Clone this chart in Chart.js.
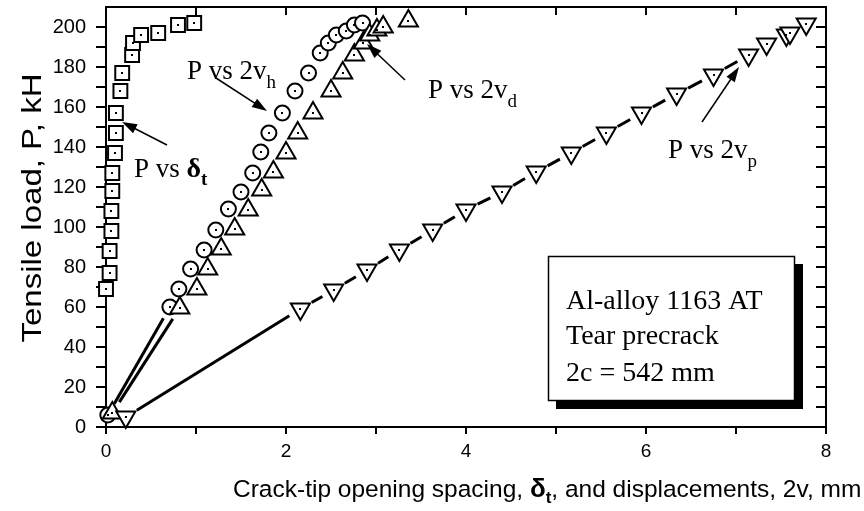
<!DOCTYPE html>
<html><head><meta charset="utf-8">
<script src="https://cdn.jsdelivr.net/npm/chart.js@4/dist/chart.umd.min.js"></script>
<style>html,body{margin:0;padding:0;background:#fff;}</style>
</head><body>
<canvas id="c" width="864" height="511"></canvas>
<script>
// ---- data ----
const xTickLabels = [0, 2, 4, 6, 8];
const yTickLabels = [0, 20, 40, 60, 80, 100, 120, 140, 160, 180, 200];

// P vs delta_t (squares)
const deltaX = [0.00, 0.04, 0.04, 0.06, 0.06, 0.07, 0.07, 0.10, 0.11, 0.11, 0.16, 0.18, 0.29, 0.30, 0.39, 0.58, 0.80, 0.98];
const deltaP = [69, 77, 88, 98, 108, 118, 127, 137, 147, 157, 168, 177, 186, 192, 196, 197, 201, 202];

// P vs 2v_h (circles)
const vhX = [0.02, 0.71, 0.81, 0.94, 1.09, 1.22, 1.36, 1.50, 1.63, 1.72, 1.81, 1.96, 2.10, 2.25, 2.38, 2.47, 2.56, 2.67, 2.76, 2.85];
const vhP = [6, 60, 69, 79, 88.5, 98.5, 109, 117.5, 127, 137.5, 147, 157, 168, 177, 187, 192, 196, 198, 201, 202];

// P vs 2v_d (triangles)
const vdX = [0.07, 0.82, 1.01, 1.13, 1.28, 1.43, 1.58, 1.73, 1.86, 2.00, 2.13, 2.30, 2.50, 2.63, 2.76, 2.86, 2.93, 3.01, 3.08, 3.36];
const vdP = [7, 59.5, 69, 79, 89, 99, 108.5, 118.5, 127.5, 137, 147, 157, 168, 177, 186, 192, 196, 198.5, 200, 203];

// P vs 2v_p (inverted triangles)
const vpX = [0.22, 2.16, 2.53, 2.90, 3.26, 3.63, 4.00, 4.40, 4.78, 5.17, 5.56, 5.95, 6.34, 6.75, 7.14, 7.34, 7.56, 7.60, 7.78];
const vpP = [5, 59, 68.5, 78.5, 88.5, 98.5, 108.5, 117.5, 127.5, 137, 147, 157, 166.5, 176, 186, 191.5, 196, 197, 201.5];

const SANS = "'Liberation Sans', Arial, sans-serif";
const SERIF = "'Liberation Serif', 'Times New Roman', serif";

function pts(xs, ys) { return xs.map((x, i) => ({ x: x, y: ys[i] })); }

function richText(ctx, x, y, parts) {
  let cx = x;
  for (const p of parts) {
    ctx.font = p.font;
    ctx.fillText(p.t, cx, y + (p.dy || 0));
    cx += ctx.measureText(p.t).width;
  }
  return cx - x;
}
function arrow(ctx, x1, y1, x2, y2) {
  const a = Math.atan2(y2 - y1, x2 - x1), L = 15, W = 5;
  ctx.beginPath(); ctx.moveTo(x1, y1);
  ctx.lineTo(x2 - Math.cos(a) * L * 0.7, y2 - Math.sin(a) * L * 0.7);
  ctx.lineWidth = 1.5; ctx.stroke();
  ctx.beginPath(); ctx.moveTo(x2, y2);
  ctx.lineTo(x2 - L * Math.cos(a) + W * Math.sin(a), y2 - L * Math.sin(a) - W * Math.cos(a));
  ctx.lineTo(x2 - L * Math.cos(a) - W * Math.sin(a), y2 - L * Math.sin(a) + W * Math.cos(a));
  ctx.closePath(); ctx.fill();
}

// lines between markers, with gaps around symbols
const gapLines = {
  id: 'gapLines',
  beforeDatasetsDraw(chart) {
    const ctx = chart.ctx;
    ctx.save();
    ctx.strokeStyle = '#000'; ctx.lineWidth = 3; ctx.lineCap = 'butt';
    chart.data.datasets.forEach((ds, di) => {
      if (!ds.gap) return;
      const meta = chart.getDatasetMeta(di);
      for (let i = 1; i < meta.data.length; i++) {
        const p0 = meta.data[i - 1], p1 = meta.data[i];
        const dx = p1.x - p0.x, dy = p1.y - p0.y, d = Math.hypot(dx, dy);
        if (d <= 2 * ds.gap + 8) continue;
        const ux = dx / d, uy = dy / d;
        ctx.beginPath();
        ctx.moveTo(p0.x + ux * ds.gap, p0.y + uy * ds.gap);
        ctx.lineTo(p1.x - ux * ds.gap, p1.y - uy * ds.gap);
        ctx.stroke();
      }
    });
    ctx.restore();
  },
  afterDatasetsDraw(chart) {
    const ctx = chart.ctx;
    ctx.save(); ctx.fillStyle = '#000';
    chart.data.datasets.forEach((ds, di) => {
      const meta = chart.getDatasetMeta(di);
      meta.data.forEach(p => ctx.fillRect(Math.round(p.x) - 1, Math.round(p.y) - 1, 2, 2));
    });
    ctx.restore();
  }
};

const decor = {
  id: 'decor',
  afterDraw(chart) {
    const ctx = chart.ctx, a = chart.chartArea;
    const xs = chart.scales.x, ys = chart.scales.y;
    ctx.save();
    ctx.strokeStyle = '#000'; ctx.fillStyle = '#000';
    // frame top/right
    ctx.lineWidth = 2;
    ctx.beginPath();
    ctx.moveTo(a.left - 1, a.top); ctx.lineTo(a.right, a.top); ctx.lineTo(a.right, a.bottom + 1);
    ctx.stroke();
    // inward ticks on top & right
    for (let v = 0; v <= 8; v++) {
      const px = Math.round(xs.getPixelForValue(v));
      ctx.beginPath(); ctx.moveTo(px, a.top); ctx.lineTo(px, a.top + 8); ctx.stroke();
    }
    for (let v = 0; v <= 200; v += 10) {
      const py = Math.round(ys.getPixelForValue(v));
      ctx.beginPath(); ctx.moveTo(a.right, py); ctx.lineTo(a.right - 10, py); ctx.stroke();
    }
    // axis titles
    ctx.textBaseline = 'alphabetic'; ctx.textAlign = 'left';
    const f = '24.5px ' + SANS, fb = 'bold 26px ' + SANS, fs = 'bold 17px ' + SANS;
    richText(ctx, 233, 497, [
      { t: 'Crack-tip opening spacing, ', font: f },
      { t: '\u03B4', font: fb },
      { t: 't', font: fs, dy: 6 },
      { t: ', and displacements, 2v, mm', font: f }
    ]);
    ctx.save();
    ctx.translate(41, 208); ctx.rotate(-Math.PI / 2); ctx.scale(1, 0.85);
    ctx.font = '33px ' + SANS; ctx.textAlign = 'center';
    ctx.fillText('Tensile load, P, kH', 0, 0);
    ctx.restore();

    // annotations
    const fa = '27px ' + SERIF, fab = 'bold 28px ' + SERIF, fsub = '19px ' + SERIF, fsubb = 'bold 19px ' + SERIF;
    richText(ctx, 134, 177, [{ t: 'P vs ', font: fa }, { t: '\u03B4', font: fab }, { t: 't', font: fsubb, dy: 8 }]);
    richText(ctx, 187, 79, [{ t: 'P vs 2v', font: fa }, { t: 'h', font: fsub, dy: 9 }]);
    richText(ctx, 428, 98, [{ t: 'P vs 2v', font: fa }, { t: 'd', font: fsub, dy: 9 }]);
    richText(ctx, 668, 158, [{ t: 'P vs 2v', font: fa }, { t: 'p', font: fsub, dy: 9 }]);
    arrow(ctx, 167, 145, 122, 122);
    arrow(ctx, 216, 78, 267, 111);
    arrow(ctx, 405, 80, 367, 44);
    arrow(ctx, 702, 122, 739, 67);

    // info box with shadow
    const bx = 548, by = 256, bw = 247, bh = 145;
    ctx.fillRect(bx + 8, by + bh, bw, 8);
    ctx.fillRect(bx + bw, by + 8, 8, bh);
    ctx.fillStyle = '#fff'; ctx.fillRect(bx, by, bw, bh);
    ctx.fillStyle = '#000'; ctx.lineWidth = 1.5;
    ctx.strokeRect(bx + 0.5, by + 0.5, bw - 1, bh - 1);
    ctx.font = '28px ' + SERIF;
    ctx.fillText('Al-alloy 1163 AT', 566, 309);
    ctx.fillText('Tear precrack', 566, 344);
    ctx.fillText('2c = 542 mm', 566, 381);
    ctx.restore();
  }
};

const base = { showLine: false, pointBorderColor: '#000', pointBackgroundColor: '#fff', pointBorderWidth: 2, pointHoverRadius: 0, clip: false };

new Chart(document.getElementById('c').getContext('2d'), {
  type: 'scatter',
  data: {
    datasets: [
      Object.assign({}, base, { label: 'P vs 2vp', data: pts(vpX, vpP), pointStyle: 'triangle', rotation: 180, pointRotation: 180, pointRadius: 11, gap: 13, order: 0 }),
      Object.assign({}, base, { label: 'P vs 2vd', data: pts(vdX, vdP), pointStyle: 'triangle', pointRadius: 11, gap: 13, order: 1 }),
      Object.assign({}, base, { label: 'P vs 2vh', data: pts(vhX, vhP), pointStyle: 'circle', pointRadius: 7.5, gap: 13, order: 2 }),
      Object.assign({}, base, { label: 'P vs delta_t', data: pts(deltaX, deltaP), pointStyle: 'rect', pointRadius: 9.8, gap: 0, order: 3 })
    ]
  },
  options: {
    responsive: false, animation: false, devicePixelRatio: 1,
    events: [],
    layout: { autoPadding: false, padding: { left: 0, right: 38, top: 7, bottom: 0 } },
    plugins: { legend: { display: false }, tooltip: { enabled: false } },
    scales: {
      x: {
        type: 'linear', min: 0, max: 8,
        afterFit(s) { s.height = 84; s.paddingLeft = 0; s.paddingRight = 0; },
        afterBuildTicks(s) { s.ticks = [0,1,2,3,4,5,6,7,8].map(v => ({ value: v })); },
        ticks: { autoSkip: false, maxRotation: 0, color: '#000', padding: 6,
          font: { family: SANS, size: 19 },
          callback: v => xTickLabels.includes(v) ? String(v) : '' },
        grid: { drawOnChartArea: false, drawTicks: true, tickLength: 7, color: '#000', lineWidth: 2 },
        border: { display: true, color: '#000', width: 2 }
      },
      y: {
        type: 'linear', min: 0, max: 210,
        afterFit(s) { s.width = 106; s.paddingTop = 0; s.paddingBottom = 0; },
        afterBuildTicks(s) { const t = []; for (let v = 0; v <= 200; v += 10) t.push({ value: v }); s.ticks = t; },
        ticks: { autoSkip: false, color: '#000', padding: 10,
          font: { family: SANS, size: 20 },
          callback: v => yTickLabels.includes(v) ? String(v) : '' },
        grid: { drawOnChartArea: false, drawTicks: true, tickLength: 10, color: '#000', lineWidth: 2 },
        border: { display: true, color: '#000', width: 2 }
      }
    }
  },
  plugins: [gapLines, decor]
});
</script>
</body></html>
